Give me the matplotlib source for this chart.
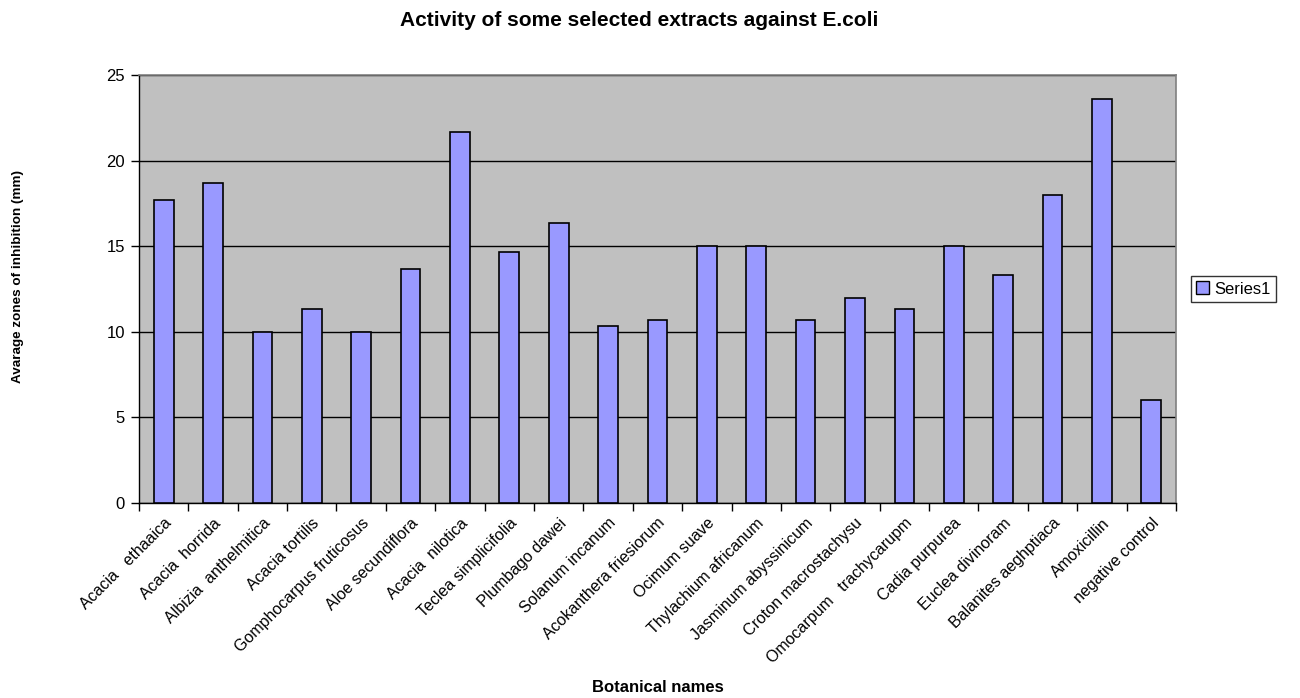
import numpy as np
import matplotlib.pyplot as plt
from matplotlib.patches import Patch

plt.rcParams['font.family'] = ['Liberation Sans', 'DejaVu Sans']

# Botanical names and average inhibition zones (mm)
nomes = ['Acacia   ethaaica', 'Acacia  horrida', 'Albizia  anthelmitica',
         'Acacia tortilis', 'Gomphocarpus fruticosus', 'Aloe secundiflora',
         'Acacia  nilotica', 'Teclea simplicifolia', 'Plumbago dawei',
         'Solanum incanum', 'Acokanthera friesiorum', 'Ocimum suave',
         'Thylachium africanum', 'Jasminum abyssinicum',
         'Croton macrostachysu', 'Omocarpum   trachycarupm',
         'Cadia purpurea', 'Euclea divinoram', 'Balanites aeghptiaca',
         'Amoxicillin', 'negative control']
zonas = [17.67, 18.67, 10.0, 11.33, 10.0, 13.67, 21.67, 14.67, 16.33,
         10.33, 10.67, 15.0, 15.0, 10.67, 12.0, 11.33, 15.0, 13.33,
         18.0, 23.6, 6.0]
y_ticks = [0, 5, 10, 15, 20, 25]

fig = plt.figure(figsize=(13, 6.98), dpi=100)
ax = fig.add_axes([0.1069, 0.2794, 0.7977, 0.6132])
ax.set_facecolor('#C0C0C0')

x = np.arange(len(nomes))
ax.bar(x, zonas, width=0.4, color='#9999FF', edgecolor='black',
       linewidth=1.2, zorder=3)

ax.set_xlim(-0.5, len(nomes) - 0.5)
ax.set_ylim(0, 25)
ax.set_yticks(y_ticks)
ax.yaxis.grid(True, color='black', linewidth=1, zorder=1)
ax.set_axisbelow(True)

# ticks sit between the categories, labels at the bar centres
ax.set_xticks(np.arange(len(nomes) + 1) - 0.5)
ax.set_xticklabels([])
ax.set_xticks(x, minor=True)
ax.set_xticklabels(nomes, minor=True, rotation=45, ha='right',
                   rotation_mode='anchor', fontsize=11.5)
ax.tick_params(axis='x', which='minor', length=0, pad=9)
ax.tick_params(axis='x', which='major', direction='out', length=6,
               width=1, color='black')
ax.tick_params(axis='y', direction='out', length=6, width=1,
               labelsize=12, pad=4)

for side in ['top', 'right']:
    ax.spines[side].set_color('#808080')
    ax.spines[side].set_linewidth(1.2)
for side in ['left', 'bottom']:
    ax.spines[side].set_color('black')
    ax.spines[side].set_linewidth(1)

fig.text(0.492, 0.971, 'Activity of some selected extracts against E.coli',
         ha='center', va='center', fontsize=15, fontweight='bold')
fig.text(0.506, 0.015, 'Botanical names', ha='center', va='center',
         fontsize=12, fontweight='bold')
fig.text(0.014, 0.604, 'Avarage zones of inhibition (mm)', ha='center',
         va='center', rotation=90, fontsize=9.7, fontweight='bold')

leg = fig.legend(handles=[Patch(facecolor='#9999FF', edgecolor='black',
                                label='Series1')],
                 loc='center left', bbox_to_anchor=(0.916, 0.586),
                 fontsize=12, frameon=True, fancybox=False,
                 borderpad=0.3, handlelength=0.8, handleheight=0.8,
                 handletextpad=0.3, borderaxespad=0)
leg.get_frame().set_edgecolor('black')
leg.get_frame().set_linewidth(1)

fig.savefig('out.png', dpi=100)
